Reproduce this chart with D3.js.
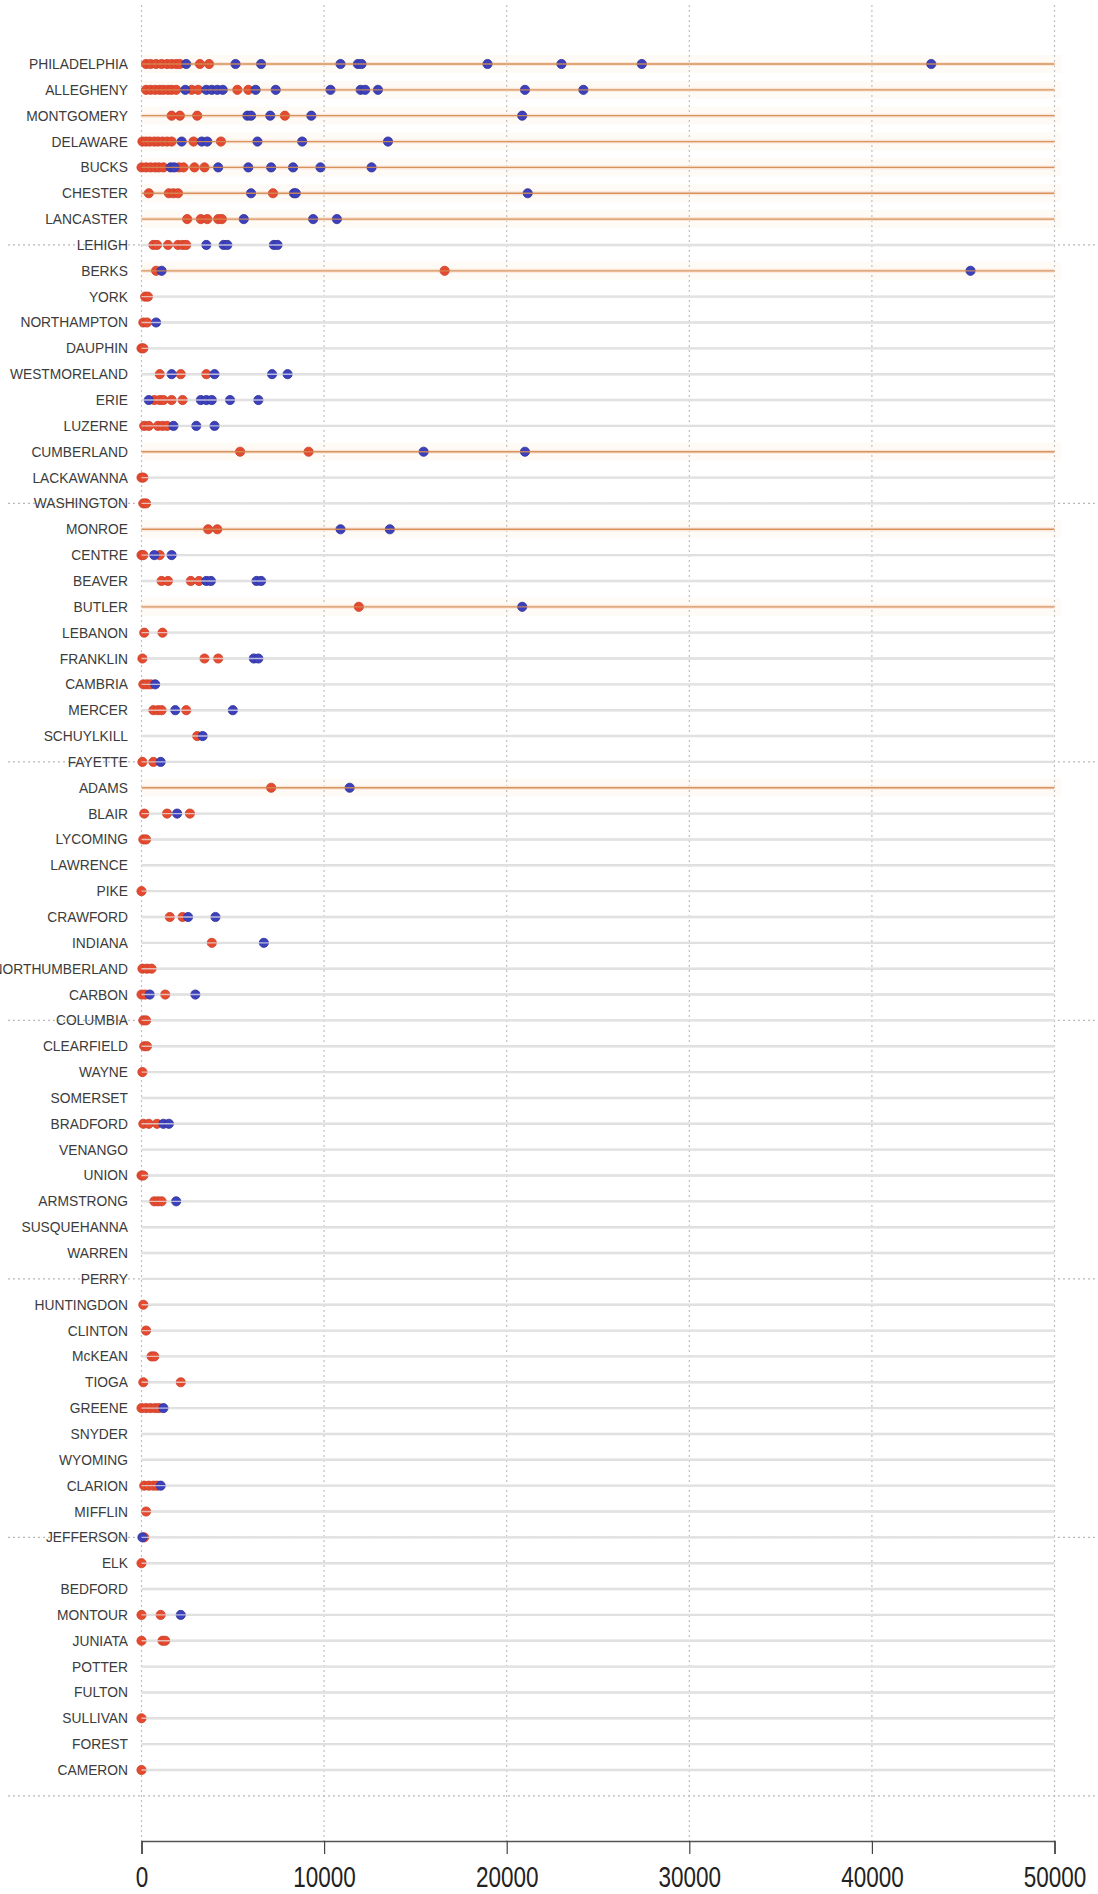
<!DOCTYPE html>
<html>
<head>
<meta charset="utf-8">
<script src="https://cdn.jsdelivr.net/npm/d3@7"></script>
<style>
  html, body { margin: 0; padding: 0; background: #ffffff; }
  svg { display: block; }
</style>
</head>
<body>
<svg id="chart" width="1098" height="1894"></svg>
<script>
const counties = ["PHILADELPHIA","ALLEGHENY","MONTGOMERY","DELAWARE","BUCKS","CHESTER","LANCASTER","LEHIGH","BERKS","YORK",
  "NORTHAMPTON","DAUPHIN","WESTMORELAND","ERIE","LUZERNE","CUMBERLAND","LACKAWANNA","WASHINGTON","MONROE","CENTRE",
  "BEAVER","BUTLER","LEBANON","FRANKLIN","CAMBRIA","MERCER","SCHUYLKILL","FAYETTE","ADAMS","BLAIR",
  "LYCOMING","LAWRENCE","PIKE","CRAWFORD","INDIANA","NORTHUMBERLAND","CARBON","COLUMBIA","CLEARFIELD","WAYNE",
  "SOMERSET","BRADFORD","VENANGO","UNION","ARMSTRONG","SUSQUEHANNA","WARREN","PERRY","HUNTINGDON","CLINTON",
  "McKEAN","TIOGA","GREENE","SNYDER","WYOMING","CLARION","MIFFLIN","JEFFERSON","ELK","BEDFORD",
  "MONTOUR","JUNIATA","POTTER","FULTON","SULLIVAN","FOREST","CAMERON"];

const redPoints = [
  [250,500,800,1100,1400,1650,1900,2100,3200,3700],
  [250,500,750,1000,1200,1450,1650,1900,2750,3100,5250,5850],
  [1650,2100,3050,7850],
  [50,250,450,700,900,1150,1400,1650,2850,4350],
  [0,250,500,750,950,1200,2050,2300,2900,3450],
  [400,1500,1750,2000,7200],
  [2500,3250,3600,4200,4400],
  [650,850,1450,2000,2250,2450],
  [800,16600],
  [200,350],
  [100,300],
  [0,100],
  [1000,2150,3550],
  [700,1000,1200,1650,2250],
  [150,400,900,1150,1400],
  [5400,9150],
  [0,100],
  [100,250],
  [3650,4150],
  [0,100,1000],
  [1100,1450,2700,3150],
  [11900],
  [150,1150],
  [50,3450,4200],
  [100,300,500],
  [650,900,1100,2450],
  [3050],
  [50,650],
  [7100],
  [150,1400,2650],
  [100,250],
  [],
  [0],
  [1550,2250],
  [3850],
  [50,300,550],
  [0,200,1300],
  [100,250],
  [150,300],
  [50],
  [],
  [100,400,850],
  [],
  [0,100],
  [700,900,1100],
  [],
  [],
  [],
  [100],
  [250],
  [550,700],
  [100,2150],
  [0,250,500,750,950],
  [],
  [],
  [150,400,650,850],
  [250],
  [150],
  [0],
  [],
  [0,1050],
  [0,1150,1300],
  [],
  [],
  [0],
  [],
  [0]
];

const bluePoints = [
  [2450,5150,6550,10900,11850,12050,18950,23000,27400,43250],
  [2400,3550,3850,4150,4450,6250,7350,10350,12000,12250,12950,21000,24200],
  [5800,6000,7050,9300,20850],
  [2200,3300,3600,6350,8800,13500],
  [1600,1800,4200,5850,7100,8300,9800,12600],
  [6000,8350,8450,21150],
  [5600,9400,10700],
  [3550,4500,4700,7250,7450],
  [1100,45400],
  [],
  [800],
  [],
  [1650,4000,7150,8000],
  [400,3250,3550,3850,4850,6400],
  [1750,3000,4000],
  [15450,21000],
  [],
  [],
  [10900,13600],
  [700,1650],
  [3550,3800,6300,6550],
  [20850],
  [],
  [6150,6400],
  [750],
  [1850,5000],
  [3350],
  [1050],
  [11400],
  [1950],
  [],
  [],
  [],
  [2550,4050],
  [6700],
  [],
  [450,2950],
  [],
  [],
  [],
  [],
  [1200,1500],
  [],
  [],
  [1900],
  [],
  [],
  [],
  [],
  [],
  [],
  [],
  [1200],
  [],
  [],
  [1050],
  [],
  [50],
  [],
  [],
  [2150],
  [],
  [],
  [],
  [],
  [],
  []
];

const xTicks = [0, 10000, 20000, 30000, 40000, 50000];
const highlightThreshold = 10000;
const separatorEvery = 10, separatorStart = 7;

// ---------- drawing ----------
const svg = d3.select("#chart");
const x = d3.scaleLinear().domain([0, 50000]).range([141.5, 1054.5]);
const yIdx = d3.scaleLinear().domain([0, counties.length - 1]).range([64, 1770]);

const rows = counties.map((c, i) => ({
  name: c, i,
  red: redPoints[i], blue: bluePoints[i],
  hi: d3.max(redPoints[i].concat(bluePoints[i])) > highlightThreshold
}));

// very faint peach bands for highlighted rows
svg.append("g").selectAll("rect").data(rows.filter(r => r.hi)).join("rect")
  .attr("x", x(0)).attr("width", x(50000) - x(0) + 6)
  .attr("y", d => yIdx(d.i) - 9).attr("height", 18)
  .attr("fill", "#fefaf6");

// vertical dotted gridlines
svg.append("g").selectAll("line").data(xTicks).join("line")
  .attr("x1", d => x(d)).attr("x2", d => x(d))
  .attr("y1", 5).attr("y2", 1841)
  .attr("stroke", "#c0c0c0").attr("stroke-width", 1.2)
  .attr("stroke-dasharray", "2,3");

// horizontal separator dotted lines
const sepIdx = d3.range(separatorStart, counties.length + 1, separatorEvery);
svg.append("g").selectAll("line").data(sepIdx).join("line")
  .attr("x1", 8).attr("x2", 1098)
  .attr("y1", d => yIdx(d)).attr("y2", d => yIdx(d))
  .attr("stroke", "#b8b8b8").attr("stroke-width", 1.2)
  .attr("stroke-dasharray", "2,3");

// gray base row lines (below dots)
svg.append("g").selectAll("line").data(rows.filter(r => !r.hi)).join("line")
  .attr("x1", x(0)).attr("x2", x(50000))
  .attr("y1", d => yIdx(d.i)).attr("y2", d => yIdx(d.i))
  .attr("stroke", "#dcdcdc").attr("stroke-width", 2.4);

// soft orange halo for highlighted rows
svg.append("g").selectAll("line").data(rows.filter(r => r.hi)).join("line")
  .attr("x1", x(0)).attr("x2", x(50000))
  .attr("y1", d => yIdx(d.i)).attr("y2", d => yIdx(d.i))
  .attr("stroke", "#fbe6d6").attr("stroke-width", 4);

// dots
const dotG = svg.append("g");
rows.forEach(r => {
  dotG.selectAll(null).data(r.red).join("circle")
    .attr("cx", d => x(d)).attr("cy", yIdx(r.i)).attr("r", 4.6)
    .attr("fill", "#e64a2e").attr("stroke", "#c9402c").attr("stroke-width", 0.8);
  dotG.selectAll(null).data(r.blue).join("circle")
    .attr("cx", d => x(d)).attr("cy", yIdx(r.i)).attr("r", 4.6)
    .attr("fill", "#3c40bd").attr("stroke", "#2e3196").attr("stroke-width", 0.8);
});

// row lines drawn over the dots
svg.append("g").selectAll("line").data(rows).join("line")
  .attr("x1", x(0)).attr("x2", x(50000))
  .attr("y1", d => yIdx(d.i)).attr("y2", d => yIdx(d.i))
  .attr("stroke", d => d.hi ? "#cf8a52" : "#e4e4e4")
  .attr("stroke-opacity", d => d.hi ? 0.9 : 0.75)
  .attr("stroke-width", d => d.hi ? 1.3 : 1.4);

// county labels
svg.append("g").selectAll("text").data(rows).join("text")
  .attr("x", 128).attr("y", d => yIdx(d.i) + 5)
  .attr("text-anchor", "end")
  .attr("font-family", "Liberation Sans, Arial, sans-serif")
  .attr("font-size", 13.8)
  .attr("fill", "#3c3c3c")
  .text(d => d.name);

// x axis
const axisG = svg.append("g").attr("transform", "translate(0,1841)");
axisG.call(d3.axisBottom(x).tickValues(xTicks).tickSize(13).tickFormat(d3.format("d")).tickPadding(6));
axisG.select(".domain").attr("stroke", "#555").attr("stroke-width", 1.6);
axisG.selectAll(".tick line").attr("stroke", "#444").attr("stroke-width", 1.2);
axisG.selectAll(".tick text").remove();
axisG.selectAll(".tick").append("text")
  .attr("text-anchor", "middle")
  .attr("transform", "translate(0,46) scale(1,1.3)")
  .attr("font-family", "Liberation Sans, Arial, sans-serif")
  .attr("font-size", 22.5)
  .attr("fill", "#222")
  .text(d => d3.format("d")(d));
</script>
</body>
</html>
